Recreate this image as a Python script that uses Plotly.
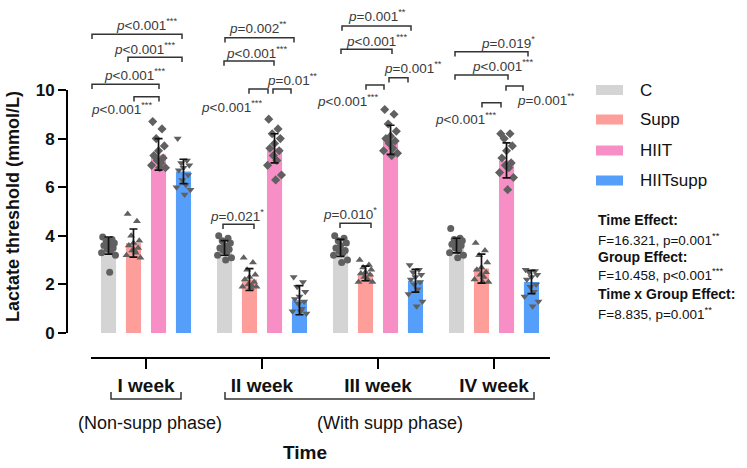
import plotly.graph_objects as go

# ---------------- data ----------------
weeks = ["I week", "II week", "III week", "IV week"]
groups = ["C", "Supp", "HIIT", "HIITsupp"]
colors = ["#d4d4d4", "#fe9e9b", "#f78fc6", "#559ffb"]
symbols = ["circle", "triangle-up", "diamond", "triangle-down"]

c_mean = [3.6, 3.5, 3.5, 3.6]
supp_mean = [3.7, 2.2, 2.45, 2.65]
hiit_mean = [7.35, 7.6, 7.95, 7.1]
hiitsupp_mean = [6.65, 1.35, 2.15, 2.1]

c_sd = [0.35, 0.3, 0.35, 0.3]
supp_sd = [0.58, 0.45, 0.3, 0.6]
hiit_sd = [0.65, 0.6, 0.6, 0.72]
hiitsupp_sd = [0.5, 0.6, 0.47, 0.48]

c_pts = [
    [3.95, 3.85, 3.8, 3.7, 3.65, 3.6, 3.5, 3.45, 3.4, 3.3, 3.2, 2.5],
    [4.0, 3.9, 3.8, 3.7, 3.6, 3.5, 3.45, 3.4, 3.3, 3.2, 3.1, 3.0],
    [4.0, 3.9, 3.8, 3.7, 3.6, 3.5, 3.4, 3.35, 3.3, 3.2, 3.0, 2.9],
    [4.3, 3.9, 3.85, 3.8, 3.7, 3.65, 3.6, 3.5, 3.4, 3.3, 3.2, 3.1],
]
supp_pts = [
    [4.9, 4.6, 4.0, 3.8, 3.7, 3.6, 3.5, 3.4, 3.3, 3.2, 3.1, 3.4],
    [3.1, 2.9, 2.6, 2.4, 2.3, 2.2, 2.1, 2.0, 1.95, 1.9, 1.9, 1.85],
    [3.0, 2.8, 2.7, 2.6, 2.5, 2.45, 2.4, 2.3, 2.2, 2.1, 2.1, 2.2],
    [3.7, 3.4, 3.2, 2.9, 2.7, 2.6, 2.5, 2.4, 2.3, 2.2, 2.1, 2.1],
]
hiit_pts = [
    [8.7, 8.4, 8.0, 7.7, 7.5, 7.3, 7.2, 7.1, 7.0, 6.9, 6.8, 6.8],
    [8.8, 8.4, 8.2, 8.0, 7.8, 7.6, 7.5, 7.3, 7.1, 6.9, 6.5, 6.3],
    [9.2, 9.0, 8.6, 8.3, 8.1, 8.0, 7.9, 7.8, 7.6, 7.5, 7.4, 7.3],
    [8.2, 8.2, 8.0, 7.7, 7.5, 7.2, 7.0, 6.9, 6.8, 6.6, 6.4, 5.9],
]
hiitsupp_pts = [
    [8.0, 7.1, 7.0, 6.9, 6.8, 6.7, 6.5, 6.3, 6.1, 6.0, 5.9, 5.7],
    [2.3, 2.1, 1.9, 1.7, 1.5, 1.4, 1.3, 1.2, 1.0, 0.9, 0.8, 0.9],
    [2.8, 2.6, 2.5, 2.4, 2.3, 2.2, 2.1, 2.0, 1.8, 1.6, 1.3, 1.1],
    [2.6, 2.55, 2.5, 2.4, 2.3, 2.2, 2.0, 1.9, 1.7, 1.5, 1.3, 1.1],
]

stat_lines = ["<b>Time Effect:</b>", "F=16.321, p=0.001<sup>**</sup>",
              "<b>Group Effect:</b>", "F=10.458, p&lt;0.001<sup>***</sup>",
              "<b>Time x Group Effect:</b>", "F=8.835, p=0.001<sup>**</sup>"]

# ---------------- geometry helpers ----------------
W, H = 747, 468
ML, MR, MT, MB = 67, 187, 0, 110
PW, PH = W - ML - MR, H - MT - MB
X0PX, XSCALE = 146.0, 116.0   # pixel of week I centre, px per week
Y0PX, YSCALE = 333.0, 24.3    # pixel of y=0, px per unit


def dx(px):
    return (px - X0PX) / XSCALE


def dy(py):
    return (Y0PX - py) / YSCALE


def pxp(px):
    return (px - ML) / PW


def pyp(py):
    return (MT + PH - py) / PH


FONT = "Liberation Sans, Arial, sans-serif"
offsets = [-0.323, -0.108, 0.108, 0.323]
bar_w = 0.13
jit = [-0.05, 0.03, -0.02, 0.05, 0.0, -0.04, 0.04, -0.01, 0.02, -0.06, 0.06, 0.01]

means = [c_mean, supp_mean, hiit_mean, hiitsupp_mean]
sds = [c_sd, supp_sd, hiit_sd, hiitsupp_sd]
pts = [c_pts, supp_pts, hiit_pts, hiitsupp_pts]

fig = go.Figure()
for gi, g in enumerate(groups):
    fig.add_trace(go.Bar(
        x=[w + offsets[gi] for w in range(len(weeks))], y=means[gi], width=bar_w,
        marker=dict(color=colors[gi], line=dict(width=0)), name=g, showlegend=False))

for gi, g in enumerate(groups):
    xs, ys = [], []
    for w in range(len(weeks)):
        for k, v in enumerate(pts[gi][w]):
            xs.append(w + offsets[gi] + jit[k % len(jit)])
            ys.append(v)
    fig.add_trace(go.Scatter(x=xs, y=ys, mode="markers", showlegend=False,
                             marker=dict(symbol=symbols[gi], size=7, color="#606060"),
                             cliponaxis=False))

for gi, g in enumerate(groups):
    fig.add_trace(go.Scatter(
        x=[w + offsets[gi] for w in range(len(weeks))], y=means[gi], mode="markers",
        marker=dict(size=1, color="rgba(0,0,0,0)"), showlegend=False,
        error_y=dict(type="data", array=sds[gi], color="#111111", thickness=1.7, width=4)))

shapes = []
annotations = []
LC = "#333333"

# axis lines
shapes.append(dict(type="line", xref="paper", yref="y", x0=0, x1=0, y0=0, y1=10,
                   line=dict(color="black", width=2)))
shapes.append(dict(type="line", xref="x", yref="paper", x0=dx(91), x1=dx(550), y0=0, y1=0,
                   line=dict(color="black", width=2)))

P_LT3 = "<i>p</i>&lt;0.001<sup>***</sup>"
# significance brackets: (x0px, x1px, ypx, text, text_xpx, text_ypx)
brackets = [
    (92, 182, 34.3, P_LT3, 147, 24),
    (128, 182, 57.3, P_LT3, 145, 47.7),
    (92, 159, 84.3, P_LT3, 135, 74),
    (134, 159, 96.7, P_LT3, 122, 108),
    (225, 294, 37.7, "<i>p</i>=0.002<sup>**</sup>", 258, 26.7),
    (224, 274, 61, P_LT3, 257, 51.7),
    (273, 291, 89, "<i>p</i>=0.01<sup>**</sup>", 292, 79.3),
    (249, 268, 89, P_LT3, 232, 106),
    (342, 411, 26, "<i>p</i>=0.001<sup>**</sup>", 377, 15),
    (341, 392, 49.3, P_LT3, 377, 40),
    (389, 408, 77.7, "<i>p</i>=0.001<sup>**</sup>", 413, 66.7),
    (366, 384, 85, P_LT3, 348, 100),
    (455, 528, 51.7, "<i>p</i>=0.019<sup>*</sup>", 508, 41.7),
    (455, 508, 75, P_LT3, 503, 65),
    (506, 523, 86, "<i>p</i>=0.001<sup>**</sup>", 546, 99),
    (482, 501, 102.7, P_LT3, 466, 118),
    (223, 254, 224.3, "<i>p</i>=0.021<sup>*</sup>", 237, 215),
    (340, 371, 223.3, "<i>p</i>=0.010<sup>*</sup>", 349.5, 213.3),
]
drop = 4.7
for x0, x1, yb, txt, tx, ty in brackets:
    path = "M{},{} L{},{} L{},{} L{},{}".format(dx(x0), dy(yb + drop), dx(x0), dy(yb),
                                                 dx(x1), dy(yb), dx(x1), dy(yb + drop))
    shapes.append(dict(type="path", xref="x", yref="y", path=path,
                       line=dict(color=LC, width=1.5)))
    annotations.append(dict(x=dx(tx), y=dy(ty), xref="x", yref="y", text=txt, showarrow=False,
                            xanchor="center", yanchor="middle",
                            font=dict(family=FONT, size=13.5, color="#3a3a3a")))

# phase brackets under tick labels
for x0, x1 in [(111, 181), (225, 534)]:
    shapes.append(dict(type="path", xref="paper", yref="paper",
                       path="M{},{} L{},{} L{},{} L{},{}".format(pxp(x0), pyp(392), pxp(x0), pyp(399),
                                                               pxp(x1), pyp(399), pxp(x1), pyp(392)),
                       line=dict(color=LC, width=1.5)))


def ann(xpx, ypx, text, size, anchor="center", angle=0):
    annotations.append(dict(x=pxp(xpx), y=pyp(ypx), xref="paper", yref="paper", text=text,
                            xanchor=anchor, yanchor="middle", showarrow=False, textangle=angle,
                            font=dict(family=FONT, size=size, color="#111111")))


ann(150, 423, "(Non-supp phase)", 18)
ann(390, 423, "(With supp phase)", 18)
ann(305, 452, "<b>Time</b>", 19)
ann(13, 207, "<b>Lactate threshold (mmol/L)</b>", 18, angle=-90)

# custom legend
leg_y = [90, 119.5, 150.5, 180.5]
for gi, g in enumerate(groups):
    shapes.append(dict(type="rect", xref="paper", yref="paper", x0=pxp(596), x1=pxp(623),
                       y0=pyp(leg_y[gi] + 5), y1=pyp(leg_y[gi] - 5),
                       fillcolor=colors[gi], line=dict(width=0)))
    ann(638, leg_y[gi], g, 17, anchor="left")

stat_y = [220, 239, 257, 274, 294, 313]
for i, t in enumerate(stat_lines):
    ann(596, stat_y[i], t, 14 if i % 2 == 0 else 13.5, anchor="left")

fig.update_layout(
    width=W, height=H, margin=dict(l=ML, r=MR, t=MT, b=MB),
    paper_bgcolor="white", plot_bgcolor="white", showlegend=False,
    barmode="overlay", shapes=shapes, annotations=annotations,
    font=dict(family=FONT, color="#111111"),
    xaxis=dict(range=[dx(ML), dx(ML + PW)], tickvals=list(range(len(weeks))),
               ticktext=["<b>{}</b>".format(w) for w in weeks],
               tickfont=dict(family=FONT, size=19, color="#111111"),
               ticks="outside", ticklen=10, tickwidth=2, tickcolor="black",
               showline=False, showgrid=False, zeroline=False),
    yaxis=dict(range=[dy(MT + PH), dy(MT)], tickvals=[0, 2, 4, 6, 8, 10],
               ticktext=["<b>{}</b>".format(v) for v in [0, 2, 4, 6, 8, 10]],
               tickfont=dict(family=FONT, size=17, color="#111111"),
               ticks="outside", ticklen=8, tickwidth=2, tickcolor="black",
               showline=False, showgrid=False, zeroline=False),
)

fig.write_html("out.html")
